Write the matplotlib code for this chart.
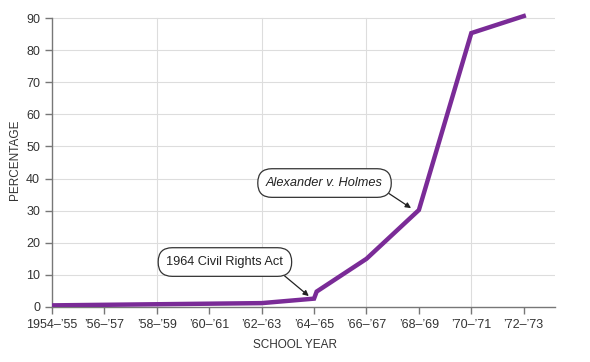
import matplotlib
matplotlib.use("Agg")
import matplotlib.pyplot as plt

years = [1954, 1962, 1964, 1964.1, 1966, 1968, 1970, 1972]
percent = [0.5, 1.2, 2.6, 4.8, 15.0, 30.2, 85.3, 90.6]
tick_years = [1954, 1956, 1958, 1960, 1962, 1964, 1966, 1968, 1970, 1972]
tick_labels = ["1954–’55", "’56–’57", "’58–’59", "’60–’61", "’62–’63",
               "’64–’65", "’66–’67", "’68–’69", "’70–’71", "’72–’73"]
vgrid_years = [1958, 1962, 1966, 1970]
yticks = list(range(0, 100, 10))

plt.rcParams['font.family'] = ['Liberation Sans', 'DejaVu Sans']
fig = plt.figure(figsize=(5.9, 3.62), dpi=100)
ax = fig.add_axes([0.088, 0.152, 0.853, 0.816])

ax.set_xlim(1954, 1973.2)
ax.set_ylim(0, 92)
for y in yticks[1:]:
    ax.axhline(y, color='#dddddd', lw=0.8, zorder=0)
for x in vgrid_years:
    ax.plot([x, x], [0, 90], color='#dddddd', lw=0.8, zorder=0)

ax.plot(years, percent, color='#7a2b97', lw=3.2, solid_joinstyle='miter', zorder=3)

for s in ['top', 'right']:
    ax.spines[s].set_visible(False)
ax.spines['left'].set_bounds(0, 90)
for s in ['left', 'bottom']:
    ax.spines[s].set_color('#777777')
    ax.spines[s].set_linewidth(1.0)

ax.set_xticks(tick_years)
ax.set_xticklabels(tick_labels)
ax.set_yticks(yticks)
ax.tick_params(axis='both', colors='#777777', labelcolor='#333333', labelsize=9,
               length=5, width=1.0, direction='out')

ylab = ax.set_ylabel("PERCENTAGE", fontsize=8.5, color='#333333')
ax.yaxis.set_label_coords(-0.073, 0.5)
ylab.set_va('center')
xlab = ax.set_xlabel("SCHOOL YEAR", fontsize=8.5, color='#333333')
ax.xaxis.set_label_coords(0.483, -0.128)
xlab.set_va('center')

box = dict(boxstyle="round,pad=0.65,rounding_size=1.1", fc='white', ec='#333333', lw=0.9)
ax.annotate("1964 Civil Rights Act", xy=(1963.8, 3.4), xytext=(1960.6, 14.0),
            fontsize=9.2, color='#222222', ha='center', va='center', bbox=box,
            arrowprops=dict(arrowstyle='-|>', color='#222222', lw=0.9, mutation_scale=8,
                            relpos=(0.93, 0.0), shrinkA=0, shrinkB=0), zorder=5)
ax.annotate("Alexander v. Holmes", xy=(1967.7, 30.8), xytext=(1964.4, 38.6),
            fontsize=9.2, color='#222222', ha='center', va='center', style='italic', bbox=box,
            arrowprops=dict(arrowstyle='-|>', color='#222222', lw=0.9, mutation_scale=8,
                            relpos=(0.97, 0.15), shrinkA=0, shrinkB=0), zorder=5)

fig.savefig("out.png", dpi=100)
